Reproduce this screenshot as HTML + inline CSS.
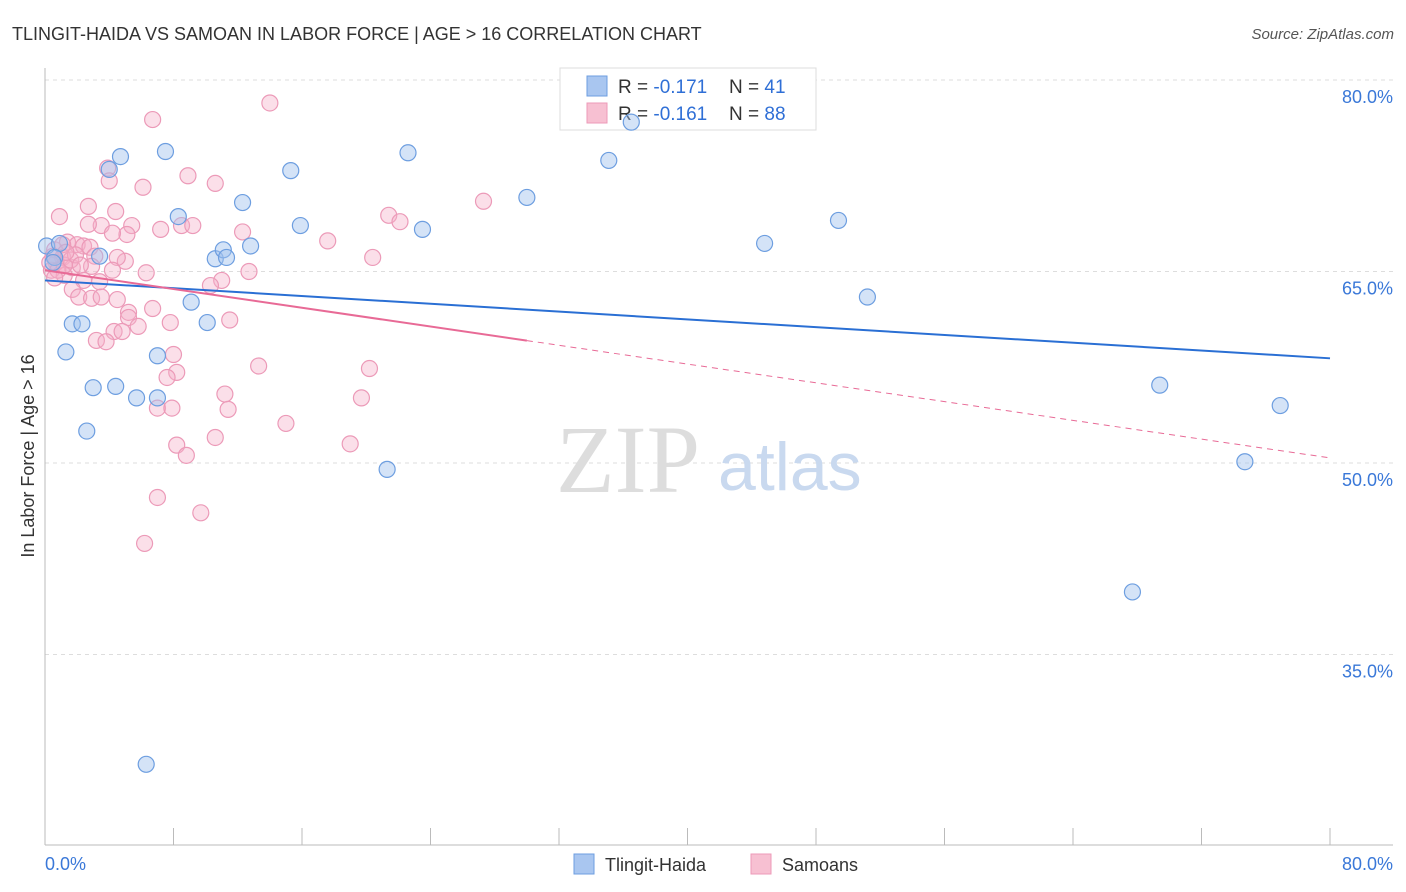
<!DOCTYPE html>
<html><head><meta charset="utf-8"><style>
body{margin:0;background:#fff;font-family:"Liberation Sans",sans-serif;}
svg{display:block}
</style></head><body>
<svg id="chart" width="1406" height="892" xmlns="http://www.w3.org/2000/svg">
<text x="12" y="40" font-size="18" fill="#333">TLINGIT-HAIDA VS SAMOAN IN LABOR FORCE | AGE &gt; 16 CORRELATION CHART</text>
<text x="1394" y="39" font-size="15" fill="#555" font-style="italic" text-anchor="end">Source: ZipAtlas.com</text>
<text transform="translate(34,456) rotate(-90)" font-size="18" fill="#333" text-anchor="middle">In Labor Force | Age &gt; 16</text>
<g id="grid"></g>
<text x="556" y="492" font-size="96" fill="#ddd" font-family="Liberation Serif,serif">ZIP</text>
<text x="718" y="490" font-size="68" fill="#c9d9ef">atlas</text>
<g>
<rect x="560" y="68" width="256" height="62" fill="#fff" stroke="#ddd"/>
<rect x="587" y="76" width="20" height="20" fill="#a9c6f0" stroke="#6d9ee0"/>
<rect x="587" y="103" width="20" height="20" fill="#f7c0d2" stroke="#ec9ab8"/>
<text x="618" y="93" font-size="19" fill="#333">R = <tspan fill="#2f6fd6">-0.171</tspan></text>
<text x="729" y="93" font-size="19" fill="#333">N =  <tspan fill="#2f6fd6">41</tspan></text>
<text x="618" y="120" font-size="19" fill="#333">R = <tspan fill="#2f6fd6">-0.161</tspan></text>
<text x="729" y="120" font-size="19" fill="#333">N = <tspan fill="#2f6fd6">88</tspan></text>
</g>
<g id="axes"></g>
<g id="pts"></g>
<g id="trends"></g>
<g>
<rect x="574" y="854" width="20" height="20" fill="#a9c6f0" stroke="#6d9ee0"/>
<text x="605" y="871" font-size="18" fill="#333">Tlingit-Haida</text>
<rect x="751" y="854" width="20" height="20" fill="#f7c0d2" stroke="#ec9ab8"/>
<text x="782" y="871" font-size="18" fill="#333">Samoans</text>
</g>
</svg>
<script>
const yTicks=[80,65,50,35];
const xTicks=[0,8,16,24,32,40,48,56,64,72,80];
const blueX=[0.1,0.9,0.6,0.5,4.7,7.5,4.0,15.3,22.6,35.1,36.5,30.0,12.3,8.3,15.9,23.5,10.6,11.1,11.3,12.8,3.4,9.1,10.1,1.7,2.3,1.3,7.0,3.0,4.4,5.7,7.0,2.6,21.3,49.4,44.8,51.2,69.4,76.9,74.7,67.7,6.3];
const blueY=[67.0,67.2,66.1,65.7,74.0,74.4,73.0,72.9,74.3,73.7,76.7,70.8,70.4,69.3,68.6,68.3,66.0,66.7,66.1,67.0,66.2,62.6,61.0,60.9,60.9,58.7,58.4,55.9,56.0,55.1,55.1,52.5,49.5,69.0,67.2,63.0,56.1,54.5,50.1,39.9,26.4];
const pinkX=[14.0,6.7,3.9,8.9,6.1,4.0,10.6,0.9,2.7,4.4,27.3,21.4,22.1,3.5,5.4,7.2,8.5,9.2,2.7,5.1,4.2,12.3,17.6,1.4,2.0,2.4,2.8,0.6,1.1,3.1,5.0,4.5,20.4,0.7,1.7,2.9,0.4,1.2,2.4,4.2,6.3,12.7,11.0,10.3,1.7,2.1,2.9,3.5,4.5,6.7,5.2,5.2,5.8,4.3,4.8,11.5,7.8,3.2,3.8,8.0,13.3,8.2,7.6,20.2,11.2,19.7,7.0,7.9,11.4,15.0,8.2,10.6,19.0,8.8,7.0,9.7,6.2,0.3,0.8,1.2,1.6,1.9,0.6,2.2,3.4,1.1,1.3,0.5];
const pinkY=[78.2,76.9,73.1,72.5,71.6,72.1,71.9,69.3,70.1,69.7,70.5,69.4,68.9,68.6,68.6,68.3,68.6,68.6,68.7,67.9,68.0,68.1,67.4,67.3,67.1,67.0,66.9,66.7,66.1,66.2,65.8,66.1,66.1,65.7,65.3,65.4,65.1,64.7,64.3,65.1,64.9,65.0,64.3,63.9,63.6,63.0,62.9,63.0,62.8,62.1,61.8,61.4,60.7,60.3,60.3,61.2,61.0,59.6,59.5,58.5,57.6,57.1,56.7,57.4,55.4,55.1,54.3,54.3,54.2,53.1,51.4,52.0,51.5,50.6,47.3,46.1,43.7,65.7,65.1,65.5,65.9,66.3,64.5,65.5,64.2,67.1,66.5,66.2];
const blueTrend=[64.3,58.2];
const pinkTrend=[65.1,50.4];
const pinkSolidEnd=30;
const NS="http://www.w3.org/2000/svg";
const xs=v=>45+v*(1285/80);
const ys=v=>80+(80-v)*(191.5/15);
function mk(t,a,p){const e=document.createElementNS(NS,t);for(const k in a)e.setAttribute(k,a[k]);p.appendChild(e);return e;}
const grid=document.getElementById('grid'),axes=document.getElementById('axes'),pts=document.getElementById('pts'),tr=document.getElementById('trends');
yTicks.forEach(v=>{
 const l=mk('line',{x1:45,x2:1393,y1:ys(v),y2:ys(v),stroke:'#ddd','stroke-dasharray':'4,4'},grid);
 
 
 const t=mk('text',{x:1393,y:ys(v)+23,'font-size':18,fill:'#3a78d8','text-anchor':'end'},axes);
 t.textContent=v.toFixed(1)+'%';
 
 
});
const la=mk('line',{x1:45,x2:45,y1:68,y2:845,stroke:'#bbb'},axes);


const lb=mk('line',{x1:45,x2:1393,y1:845,y2:845,stroke:'#bbb'},axes);


xTicks.forEach(v=>{
 const l=mk('line',{x1:xs(v),x2:xs(v),y1:828,y2:845,stroke:'#bbb'},axes);
 
 
});
[[0,'start',45],[80,'end',1393]].forEach(([v,a,x])=>{
 const t=mk('text',{x:x,y:870,'font-size':18,fill:'#3a78d8','text-anchor':a},axes);
 t.textContent=v.toFixed(1)+'%';
 
 
});
pinkX.forEach((v,i)=>{
 const c=mk('circle',{cx:xs(v),cy:ys(pinkY[i]),r:8,fill:'rgba(246,176,200,0.4)',stroke:'#ec9ab8','stroke-width':1.2},pts);
 
 
});
blueX.forEach((v,i)=>{
 const c=mk('circle',{cx:xs(v),cy:ys(blueY[i]),r:8,fill:'rgba(160,192,238,0.45)',stroke:'#6d9ee0','stroke-width':1.2},pts);
 
 
});
const pAt=x=>pinkTrend[0]+(pinkTrend[1]-pinkTrend[0])*x/80;
const b=mk('line',{x1:xs(0),y1:ys(blueTrend[0]),x2:xs(80),y2:ys(blueTrend[1]),stroke:'#2a6fd4','stroke-width':2},tr);


const p1=mk('line',{x1:xs(0),y1:ys(pAt(0)),x2:xs(pinkSolidEnd),y2:ys(pAt(pinkSolidEnd)),stroke:'#e86a96','stroke-width':2},tr);


const p2=mk('line',{x1:xs(pinkSolidEnd),y1:ys(pAt(pinkSolidEnd)),x2:xs(80),y2:ys(pAt(80)),stroke:'#e86a96','stroke-width':1,'stroke-dasharray':'6,5'},tr);


</script>
</body></html>
